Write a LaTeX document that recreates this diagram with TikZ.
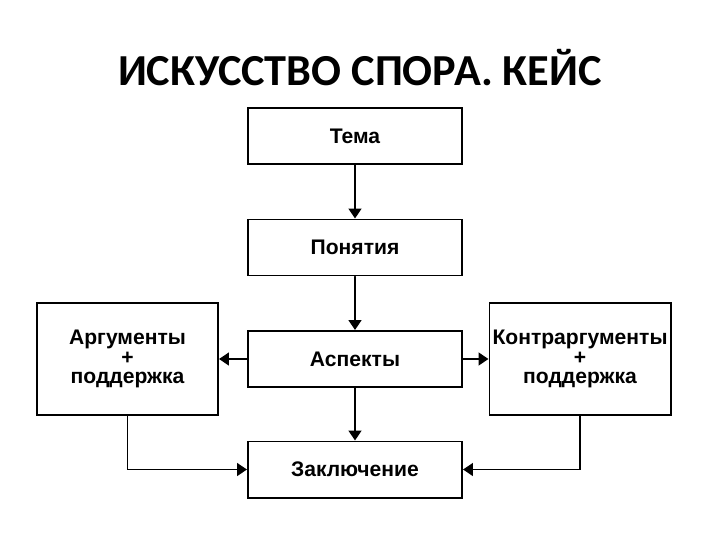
\documentclass[tikz,border=0pt]{standalone}
\usepackage{fontspec}
\setmainfont{Liberation Sans}
\newfontfamily\titlefont{Carlito}
\usepackage{tikz}
\usetikzlibrary{arrows.meta, positioning}
\tikzset{
	blok/.style = {draw, line width=1.4pt, minimum width=5.35cm, minimum height=1.4cm, inner sep=0pt,
		align=center, font=\bfseries\fontsize{15}{14}\selectfont},
	sideblok/.style = {blok, minimum width=4.525cm, minimum height=2.8cm},
	arr/.style = {line width=1.4pt, -{Triangle[width=9pt, length=7pt]}}
}

\begin{document}
\begin{tikzpicture}[x=0.025cm, y=-0.025cm, line cap=round]
	\useasboundingbox (0,0) rectangle (720,540);
	\node[font=\titlefont\bfseries\fontsize{31.5}{36}\selectfont] (title) at (360,68) {ИСКУССТВО СПОРА. КЕЙС};
	% main column
	\node[blok] (tema) at (355,136) {Тема};
	\node[blok] (pon) at (355,247.5) {Понятия};
	\node[blok] (asp) at (355,359) {Аспекты};
	\node[blok] (zak) at (355,469.5) {Заключение};
	% side boxes
	\node[sideblok] (arg) at (127.5,359) {Аргументы\\+\\поддержка};
	\node[sideblok] (kontr) at (580,359) {Контраргументы\\+\\поддержка};
	\draw[arr] (tema) -- (pon);
	\draw[arr] (pon) -- (asp);
	\draw[arr] (asp) -- (zak);
	\draw[arr] (asp) -- (arg);
	\draw[arr] (asp) -- (kontr);
	\draw[arr] (arg.south) |- (zak.west);
	\draw[arr] (kontr.south) |- (zak.east);
\end{tikzpicture}
\end{document}
